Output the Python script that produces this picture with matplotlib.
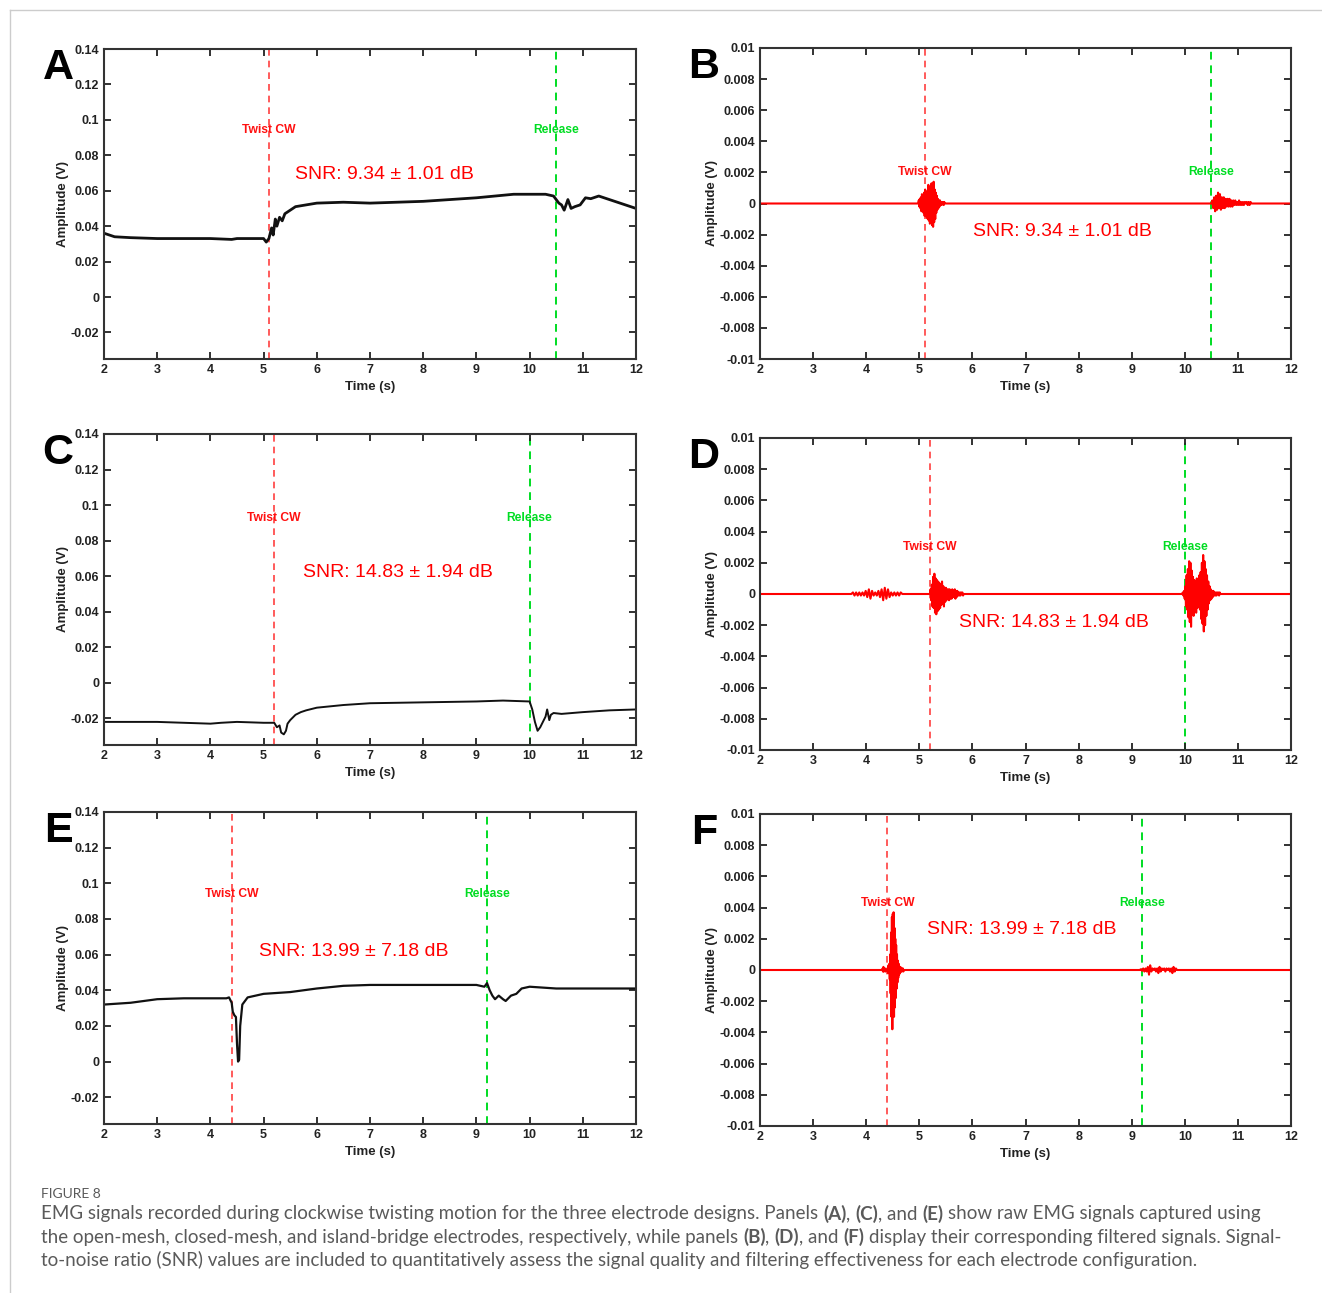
import numpy as np
import matplotlib
matplotlib.use('Agg')
import matplotlib.pyplot as plt
from matplotlib.lines import Line2D
from matplotlib.transforms import IdentityTransform

plt.rcParams['font.family'] = ['Liberation Sans', 'DejaVu Sans']

W, H = 1322, 1293

# ---- raw signals (A, C, E): time in s, amplitude in V ----
raw_a_t = [2.0, 2.2, 2.5, 3.0, 3.5, 4.0, 4.4, 4.5, 5.0, 5.05, 5.1, 5.15, 5.18, 5.22, 5.25,
           5.3, 5.35, 5.4, 5.5, 5.6, 6.0, 6.5, 7.0, 8.0, 9.0, 9.7, 10.3, 10.45, 10.55, 10.6,
           10.65, 10.72, 10.78, 10.85, 10.95, 11.05, 11.15, 11.3, 11.5, 11.8, 12.0]
raw_a_v = [0.036, 0.034, 0.0335, 0.033, 0.033, 0.033, 0.0325, 0.033, 0.033, 0.031, 0.033,
           0.039, 0.035, 0.044, 0.040, 0.045, 0.043, 0.047, 0.049, 0.051, 0.053, 0.0535,
           0.053, 0.054, 0.056, 0.058, 0.058, 0.057, 0.053, 0.052, 0.049, 0.055, 0.050,
           0.051, 0.052, 0.056, 0.0555, 0.057, 0.055, 0.052, 0.050]

raw_c_t = [2.0, 3.0, 4.0, 4.2, 4.5, 5.0, 5.2, 5.25, 5.3, 5.33, 5.38, 5.42, 5.45, 5.5, 5.6,
           5.7, 5.8, 6.0, 6.5, 7.0, 8.0, 9.0, 9.5, 10.0, 10.05, 10.1, 10.15, 10.2, 10.25,
           10.3, 10.33, 10.37, 10.4, 10.45, 10.6, 11.0, 11.5, 12.0]
raw_c_v = [-0.022, -0.022, -0.023, -0.0225, -0.022, -0.0225, -0.0225, -0.025, -0.024,
           -0.028, -0.029, -0.027, -0.023, -0.021, -0.018, -0.0165, -0.0155, -0.014,
           -0.0125, -0.0115, -0.011, -0.0105, -0.010, -0.0105, -0.015, -0.022, -0.027,
           -0.025, -0.022, -0.019, -0.015, -0.021, -0.018, -0.017, -0.0175, -0.0165,
           -0.0155, -0.015]

raw_e_t = [2.0, 2.5, 3.0, 3.5, 4.3, 4.35, 4.4, 4.42, 4.45, 4.48, 4.5, 4.52, 4.54, 4.56,
           4.6, 4.7, 5.0, 5.5, 6.0, 6.5, 7.0, 8.0, 9.0, 9.15, 9.2, 9.25, 9.3, 9.35, 9.42,
           9.5, 9.55, 9.65, 9.75, 9.85, 10.0, 10.5, 11.0, 12.0]
raw_e_v = [0.032, 0.033, 0.035, 0.0355, 0.0355, 0.036, 0.033, 0.028, 0.026, 0.025, 0.010,
           0.000, 0.001, 0.020, 0.032, 0.036, 0.038, 0.039, 0.041, 0.0425, 0.043, 0.043,
           0.043, 0.042, 0.044, 0.040, 0.037, 0.035, 0.037, 0.035, 0.034, 0.037, 0.038,
           0.041, 0.042, 0.041, 0.041, 0.041]

# ---- filtered signals (B, D, F): bursts as (start time, sample step, samples) ----
burst_b = [
    (4.98, 0.01, [0, 0.0002, -0.0002, 0.0003, -0.0003, 0.0004, -0.0005, 0.0006, -0.0004,
                  0.0005, -0.0006, 0.0007, -0.0008, 0.0009, -0.0007, 0.0006, -0.0009, 0.0008,
                  -0.0010, 0.0012, -0.0011, 0.0009, -0.0013, 0.0011, -0.0008, 0.0013, -0.0014,
                  0.0010, -0.0015, 0.0014, -0.0012, 0.0009, -0.0010, 0.0007, -0.0006, 0.0005,
                  -0.0004, 0.0003, -0.0003, 0.0002, -0.0002, 0.0002, -0.0001, 0.0001, -0.0001,
                  0.0001, 0, 0.0001, -0.0001, 0.0001, 0]),
    (10.5, 0.018, [0, 0.0002, -0.0003, 0.0004, -0.0005, 0.0005, -0.0004, 0.0007, -0.0003,
                   0.0006, -0.0004, 0.0004, -0.0003, 0.0004, -0.0003, 0.0003, -0.0002, 0.0003,
                   -0.0002, 0.0003, -0.0002, 0.0002, -0.0002, 0.0002, -0.0001, 0.0002, -0.0001,
                   0.0001, -0.0001, 0.0002, -0.0001, 0.0001, -0.0001, 0.0001, -0.0001, 0.0001,
                   0, 0.0001, -0.0001, 0.0001, -0.0001, 0.0001, 0]),
]
burst_d = [
    (3.72, 0.03, [0, 0.0001, -0.0001, 0.0001, -0.0001, 0.0001, -0.0001, 0.0001, -0.0001,
                  0.0002, -0.0002, 0.0003, -0.0003, 0.0002, -0.0001, 0.0001, -0.0001, 0.0002,
                  -0.0002, 0.0003, -0.0004, 0.0004, -0.0003, 0.0003, -0.0002, 0.0001, -0.0001,
                  0.0001, -0.0001, 0.0001, -0.0001, 0.0001, 0]),
    (5.2, 0.012, [0, 0.0003, -0.0004, 0.0006, -0.0008, 0.0011, -0.0009, 0.0013, -0.0012,
                  0.0010, -0.0013, 0.0009, -0.0011, 0.0008, -0.0010, 0.0007, -0.0009, 0.0006,
                  -0.0007, 0.0008, -0.0006, 0.0005, -0.0008, 0.0004, -0.0005, 0.0004, -0.0004,
                  0.0003, -0.0003, 0.0003, -0.0004, 0.0003, -0.0003, 0.0002, -0.0003, 0.0003,
                  -0.0002, 0.0002, -0.0002, 0.0003, -0.0003, 0.0002, -0.0002, 0.0002, -0.0001,
                  0.0001, -0.0001, 0.0001, -0.0001, 0.0001, 0, 0.0001, -0.0001, 0]),
    (9.95, 0.012, [0, 0.0001, -0.0001, 0.0002, -0.0003, 0.0005, -0.0008, 0.0012, -0.0010,
                   0.0016, -0.0015, 0.0021, -0.0018, 0.0020, -0.0021, 0.0015, -0.0013, 0.0011,
                   -0.0014, 0.0009, -0.0010, 0.0008, -0.0012, 0.0010, -0.0009, 0.0007, -0.0008,
                   0.0012, -0.0010, 0.0014, -0.0016, 0.0020, -0.0019, 0.0025, -0.0024, 0.0021,
                   -0.0020, 0.0016, -0.0014, 0.0012, -0.0010, 0.0008, -0.0006, 0.0005, -0.0004,
                   0.0003, -0.0003, 0.0002, -0.0002, 0.0002, -0.0001, 0.0001, -0.0001, 0.0001,
                   -0.0001, 0.0001, 0, 0.0001, -0.0001, 0.0001, 0]),
]
burst_f = [
    (4.3, 0.008, [0, 0.0001, -0.0001, 0.0002, -0.0001, 0, 0, 0.0001, -0.0001, 0, 0, 0,
                  0, 0.0001, -0.0002, 0.0003, -0.0002, 0.0004, -0.0006, 0.0010, -0.0015,
                  0.0024, -0.0030, 0.0034, -0.0038, 0.0036, -0.0028, 0.0037, -0.0030, 0.0027,
                  -0.0024, 0.0020, -0.0018, 0.0016, -0.0012, 0.0010, -0.0008, 0.0006, -0.0005,
                  0.0004, -0.0003, 0.0002, -0.0002, 0.0002, -0.0001, 0.0001, -0.0001, 0.0001,
                  0, 0.0001, -0.0001, 0]),
    (9.15, 0.022, [0, 0.00005, -0.00005, 0.0001, -0.0001, 0.0001, -0.0001, 0.0002, -0.0003,
                   0.0003, -0.0001, 0.0001, 0, 0.0001, -0.0001, 0.0001, -0.0002, 0.0002,
                   -0.0001, 0.0001, 0, 0.0001, -0.0001, 0.0001, 0, 0.0001, -0.0001, 0.0001,
                   -0.0002, 0.0002, -0.0001, 0.0001, 0, 0]),
]

# event times: (twist CW, release)
events = {'A': (5.1, 10.5), 'B': (5.1, 10.5), 'C': (5.2, 10.0),
          'D': (5.2, 10.0), 'E': (4.4, 9.2), 'F': (4.4, 9.2)}
snr_text = {'A': 'SNR: 9.34 \u00b1 1.01 dB', 'B': 'SNR: 9.34 \u00b1 1.01 dB',
            'C': 'SNR: 14.83 \u00b1 1.94 dB', 'D': 'SNR: 14.83 \u00b1 1.94 dB',
            'E': 'SNR: 13.99 \u00b1 7.18 dB', 'F': 'SNR: 13.99 \u00b1 7.18 dB'}

x_ticks = [2, 3, 4, 5, 6, 7, 8, 9, 10, 11, 12]
raw_yticks = [-0.02, 0, 0.02, 0.04, 0.06, 0.08, 0.1, 0.12, 0.14]
filt_yticks = [-0.01, -0.008, -0.006, -0.004, -0.002, 0, 0.002, 0.004, 0.006, 0.008, 0.01]

# layout in pixels: left, top, right, bottom
boxes = {'A': (104, 49, 636, 359), 'B': (760, 48, 1291, 359),
         'C': (104, 434, 636, 745), 'D': (760, 438, 1291, 750),
         'E': (104, 812, 636, 1124), 'F': (760, 814, 1291, 1126)}
letter_off = {'A': 46, 'C': 46, 'E': 46, 'B': 56, 'D': 56, 'F': 56}
# label y (event text) and SNR position in data units
ev_label_y = {'A': 0.094, 'B': 0.002, 'C': 0.093, 'D': 0.003, 'E': 0.094, 'F': 0.0043}
snr_pos = {'A': (7.28, 0.069), 'B': (7.69, -0.0018), 'C': (7.53, 0.062),
           'D': (7.54, -0.0018), 'E': (6.70, 0.062), 'F': (6.93, 0.0026)}

fig = plt.figure(figsize=(W / 100, H / 100), dpi=100)

# thin gray frame like the page
fig.add_artist(Line2D([10 / W, 1], [1 - 10 / H, 1 - 10 / H], color='#cccccc', lw=1))
fig.add_artist(Line2D([10 / W, 10 / W], [0, 1 - 10 / H], color='#cccccc', lw=1))


def make_ax(key):
    l, t, r, b = boxes[key]
    ax = fig.add_axes([l / W, 1 - b / H, (r - l) / W, (b - t) / H])
    ax.set_xlim(2, 12)
    ax.set_xticks(x_ticks)
    ax.tick_params(direction='in', top=True, right=True, length=5, width=1.3,
                   labelsize=9, colors='#222222', pad=3.5)
    for s in ax.spines.values():
        s.set_linewidth(1.5)
        s.set_color('#333333')
    ax.set_xlabel('Time (s)', fontsize=9.5, weight='bold', color='#222222', labelpad=4)
    ax.set_ylabel('Amplitude (V)', fontsize=9.5, weight='bold', color='#222222', labelpad=1)
    return ax


def finish(ax, key, yticks, ylim):
    ax.set_ylim(*ylim)
    ax.set_yticks(yticks)
    ax.set_yticklabels(['%g' % v for v in yticks])
    for lab in ax.get_xticklabels() + ax.get_yticklabels():
        lab.set_fontweight('bold')
    tw, rel = events[key]
    ax.axvline(tw, color='#ff4040', lw=1.2, ls=(0, (4, 3)), zorder=1)
    ax.axvline(rel, color='#00dd22', lw=1.4, ls=(0, (4, 3)), zorder=1)
    ax.text(tw, ev_label_y[key], 'Twist CW', color='#ff1010', fontsize=8.7,
            weight='bold', ha='center', va='center')
    ax.text(rel, ev_label_y[key], 'Release', color='#00dd22', fontsize=8.7,
            weight='bold', ha='center', va='center')
    sx, sy = snr_pos[key]
    ax.text(sx, sy, snr_text[key], color='#ff0000', fontsize=14,
            ha='center', va='center')
    l, t, r, b = boxes[key]
    fig.text((l - letter_off[key]) / W, 1 - (t + 19) / H, key, fontsize=31, weight='bold',
             ha='center', va='center', color='black')


def plot_filtered(ax, bursts):
    ts, vs = [2.0], [0.0]
    for t0, dt, samples in bursts:
        for i, v in enumerate(samples):
            ts.append(t0 + i * dt)
            vs.append(v)
    ts.append(12.0)
    vs.append(0.0)
    ax.plot(ts, vs, color='#ff0000', lw=1.5, zorder=2)


raw = {'A': (raw_a_t, raw_a_v, 2.0), 'C': (raw_c_t, raw_c_v, 1.4), 'E': (raw_e_t, raw_e_v, 1.6)}
filt = {'B': burst_b, 'D': burst_d, 'F': burst_f}

for key in 'ACE':
    ax = make_ax(key)
    t, v, lw = raw[key]
    ax.plot(t, v, color='#111111', lw=lw, zorder=2)
    finish(ax, key, raw_yticks, (-0.035, 0.14))

for key in 'BDF':
    ax = make_ax(key)
    plot_filtered(ax, filt[key])
    finish(ax, key, filt_yticks, (-0.01, 0.01))

# ---- caption ----
cap_color = '#5a5a5a'
cap_font = ['Lato', 'DejaVu Sans']
fig.text(41 / W, 1 - 1194 / H, 'FIGURE 8', fontsize=10, color=cap_color,
         family=cap_font, va='center', ha='left')

lines = [
    [('EMG signals recorded during clockwise twisting motion for the three electrode designs. Panels', 'normal'),
     (' (A)', 'bold'), (',', 'normal'), (' (C)', 'bold'), (', and', 'normal'), (' (E)', 'bold'),
     (' show raw EMG signals captured using', 'normal')],
    [('the open-mesh, closed-mesh, and island-bridge electrodes, respectively, while panels', 'normal'),
     (' (B)', 'bold'), (',', 'normal'), (' (D)', 'bold'), (', and', 'normal'), (' (F)', 'bold'),
     (' display their corresponding filtered signals. Signal-', 'normal')],
    [('to-noise ratio (SNR) values are included to quantitatively assess the signal quality and '
      'filtering effectiveness for each electrode configuration.', 'normal')],
]
line_y = [1214, 1237, 1260]
cap_size = 13.5

fig.canvas.draw()
renderer = fig.canvas.get_renderer()
sp = fig.text(0, 0, 'a a', fontsize=cap_size, family=cap_font)
sp2 = fig.text(0, 0, 'aa', fontsize=cap_size, family=cap_font)
gap = sp.get_window_extent(renderer).width - sp2.get_window_extent(renderer).width
sp.remove()
sp2.remove()
for pieces, yy in zip(lines, line_y):
    x = 41
    for s, w in pieces:
        if s.startswith(' '):
            x += gap
        txt = fig.text(x, H - yy, s.lstrip(' '), fontsize=cap_size, weight=w,
                       color=cap_color, family=cap_font, va='center', ha='left',
                       transform=IdentityTransform())
        x += txt.get_window_extent(renderer).width

fig.savefig('out.png', dpi=100)
